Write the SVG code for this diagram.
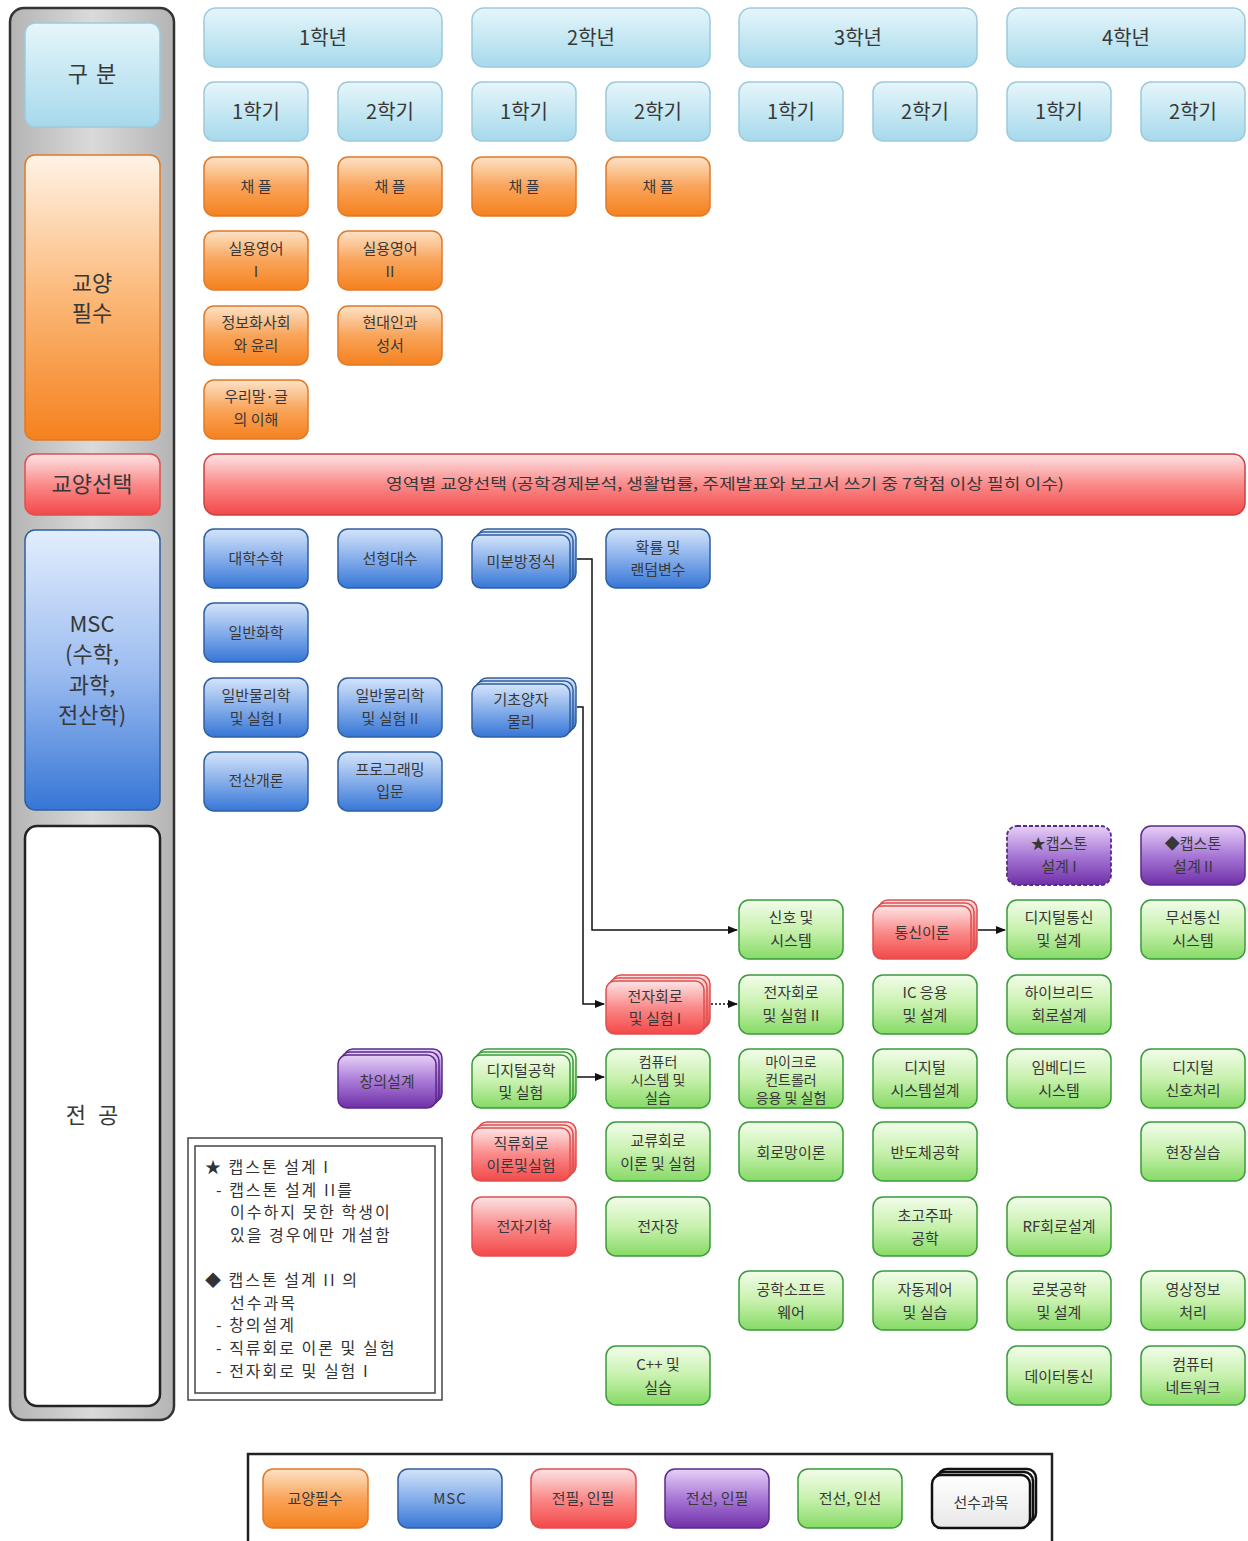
<svg xmlns="http://www.w3.org/2000/svg" width="1248" height="1541" viewBox="0 0 1248 1541">
<style>
text{font-family:"Noto Sans CJK KR","Noto Sans",sans-serif;fill:#383838;text-anchor:middle;dominant-baseline:central}
.n{font-size:15px}
.s{font-size:14px}
.h{font-size:20px}
.L{font-size:22px}
.lb{stroke:#9ccadb;stroke-width:1.5;fill:url(#gLB)}
.or{stroke:#e07a2a;stroke-width:1.5;fill:url(#gOr)}
.rd{stroke:#dd5050;stroke-width:1.5;fill:url(#gRd)}
.bl{stroke:#2f5f9f;stroke-width:1.5;fill:url(#gBl)}
.pu{stroke:#5a2a8a;stroke-width:1.5;fill:url(#gPu)}
.gr{stroke:#3a9a3a;stroke-width:1.5;fill:url(#gGr)}
.wh{stroke:#111;stroke-width:2.5;fill:url(#gWh)}
.con{fill:none;stroke:#111;stroke-width:1.5}
.note{font-size:16px;text-anchor:start;letter-spacing:2px;fill:#333}
</style>
<defs>
<linearGradient id="gLB" x1="0" y1="0" x2="0" y2="1"><stop offset="0" stop-color="#e6f6fb"/><stop offset="1" stop-color="#a6d9eb"/></linearGradient>
<linearGradient id="gOr" x1="0" y1="0" x2="0" y2="1"><stop offset="0" stop-color="#fde2c6"/><stop offset="0.5" stop-color="#f9a45a"/><stop offset="1" stop-color="#f5811e"/></linearGradient>
<linearGradient id="gOrBig" x1="0" y1="0" x2="0" y2="1"><stop offset="0" stop-color="#fff3e6"/><stop offset="0.5" stop-color="#fbb878"/><stop offset="1" stop-color="#f5811e"/></linearGradient>
<linearGradient id="gRd" x1="0" y1="0" x2="0" y2="1"><stop offset="0" stop-color="#fde4e4"/><stop offset="0.5" stop-color="#fa8a8a"/><stop offset="1" stop-color="#f34848"/></linearGradient>
<linearGradient id="gBl" x1="0" y1="0" x2="0" y2="1"><stop offset="0" stop-color="#d4e4fa"/><stop offset="0.5" stop-color="#86aeea"/><stop offset="1" stop-color="#3676d6"/></linearGradient>
<linearGradient id="gBlBig" x1="0" y1="0" x2="0" y2="1"><stop offset="0" stop-color="#e2eefd"/><stop offset="0.5" stop-color="#9dbdf0"/><stop offset="1" stop-color="#3676d6"/></linearGradient>
<linearGradient id="gPu" x1="0" y1="0" x2="0" y2="1"><stop offset="0" stop-color="#e6d0f6"/><stop offset="0.5" stop-color="#a878d6"/><stop offset="1" stop-color="#7030a8"/></linearGradient>
<linearGradient id="gGr" x1="0" y1="0" x2="0" y2="1"><stop offset="0" stop-color="#f2fdea"/><stop offset="0.5" stop-color="#c8f1ae"/><stop offset="1" stop-color="#86da66"/></linearGradient>
<linearGradient id="gWh" x1="0" y1="0" x2="0" y2="1"><stop offset="0" stop-color="#ffffff"/><stop offset="1" stop-color="#e8e8e8"/></linearGradient>
<linearGradient id="gGray" x1="0" y1="0" x2="1" y2="0"><stop offset="0" stop-color="#b4b4b4"/><stop offset="0.5" stop-color="#dadada"/><stop offset="1" stop-color="#b4b4b4"/></linearGradient>
<marker id="arr" viewBox="0 0 10 10" refX="9" refY="5" markerWidth="7" markerHeight="7" orient="auto"><path d="M0,1 L10,5 L0,9 z" fill="#111"/></marker>
</defs>
<rect width="1248" height="1541" fill="#fff"/>

<!-- left category column -->
<g id="category-column">
<rect x="10" y="8" width="164" height="1412" rx="14" fill="url(#gGray)" stroke="#333" stroke-width="2.5"/>
</g>
<g id="cat-gubun"><rect x="25" y="23" width="135" height="104" rx="10" class="lb"/><text x="96" y="72" class="L" style="letter-spacing:8px">구분</text></g>
<g id="cat-gyoyang-pilsu"><rect x="25" y="155" width="135" height="285" rx="10" stroke="#e07a2a" stroke-width="1.5" fill="url(#gOrBig)"/><text x="92" y="281" class="L">교양</text><text x="92" y="311" class="L">필수</text></g>
<g id="cat-gyoyang-seontaek"><rect x="25" y="454" width="135" height="61" rx="10" class="rd"/><text x="92" y="482" class="L">교양선택</text></g>
<g id="cat-msc"><rect x="25" y="530" width="135" height="280" rx="10" stroke="#2f5f9f" stroke-width="1.5" fill="url(#gBlBig)"/><text x="92" y="622" class="L">MSC</text><text x="92" y="652" class="L">(수학,</text><text x="92" y="683" class="L">과학,</text><text x="92" y="713" class="L">전산학)</text></g>
<g id="cat-jeongong"><rect x="25" y="826" width="135" height="580" rx="12" fill="#fff" stroke="#222" stroke-width="2.5"/><text x="98" y="1113" class="L" style="letter-spacing:12px">전공</text></g>

<!-- year headers -->
<g id="year1"><rect x="204" y="8" width="238" height="59" rx="12" class="lb"/><text x="323" y="36" class="h">1학년</text></g>
<g id="year2"><rect x="472" y="8" width="238" height="59" rx="12" class="lb"/><text x="591" y="36" class="h">2학년</text></g>
<g id="year3"><rect x="739" y="8" width="238" height="59" rx="12" class="lb"/><text x="858" y="36" class="h">3학년</text></g>
<g id="year4"><rect x="1007" y="8" width="238" height="59" rx="12" class="lb"/><text x="1126" y="36" class="h">4학년</text></g>

<!-- semesters -->
<g id="sem1-1"><rect x="204" y="82" width="104" height="59" rx="10" class="lb"/><text x="256" y="110" class="h">1학기</text></g>
<g id="sem1-2"><rect x="338" y="82" width="104" height="59" rx="10" class="lb"/><text x="390" y="110" class="h">2학기</text></g>
<g id="sem2-1"><rect x="472" y="82" width="104" height="59" rx="10" class="lb"/><text x="524" y="110" class="h">1학기</text></g>
<g id="sem2-2"><rect x="606" y="82" width="104" height="59" rx="10" class="lb"/><text x="658" y="110" class="h">2학기</text></g>
<g id="sem3-1"><rect x="739" y="82" width="104" height="59" rx="10" class="lb"/><text x="791" y="110" class="h">1학기</text></g>
<g id="sem3-2"><rect x="873" y="82" width="104" height="59" rx="10" class="lb"/><text x="925" y="110" class="h">2학기</text></g>
<g id="sem4-1"><rect x="1007" y="82" width="104" height="59" rx="10" class="lb"/><text x="1059" y="110" class="h">1학기</text></g>
<g id="sem4-2"><rect x="1141" y="82" width="104" height="59" rx="10" class="lb"/><text x="1193" y="110" class="h">2학기</text></g>

<!-- 교양필수 -->
<g id="chapel1"><rect x="204" y="157" width="104" height="59" rx="10" class="or"/><text x="256" y="185" class="n">채 플</text></g>
<g id="chapel2"><rect x="338" y="157" width="104" height="59" rx="10" class="or"/><text x="390" y="185" class="n">채 플</text></g>
<g id="chapel3"><rect x="472" y="157" width="104" height="59" rx="10" class="or"/><text x="524" y="185" class="n">채 플</text></g>
<g id="chapel4"><rect x="606" y="157" width="104" height="59" rx="10" class="or"/><text x="658" y="185" class="n">채 플</text></g>
<g id="eng1"><rect x="204" y="231" width="104" height="59" rx="10" class="or"/><text x="256" y="247" class="n">실용영어</text><text x="256" y="270" class="n">I</text></g>
<g id="eng2"><rect x="338" y="231" width="104" height="59" rx="10" class="or"/><text x="390" y="247" class="n">실용영어</text><text x="390" y="270" class="n">II</text></g>
<g id="info-ethics"><rect x="204" y="306" width="104" height="59" rx="10" class="or"/><text x="256" y="321" class="n">정보화사회</text><text x="256" y="344" class="n">와 윤리</text></g>
<g id="modern-bible"><rect x="338" y="306" width="104" height="59" rx="10" class="or"/><text x="390" y="321" class="n">현대인과</text><text x="390" y="344" class="n">성서</text></g>
<g id="korean"><rect x="204" y="380" width="104" height="59" rx="10" class="or"/><text x="256" y="395" class="n">우리말·글</text><text x="256" y="418" class="n">의 이해</text></g>

<!-- 교양선택 bar -->
<g id="elective-bar"><rect x="204" y="454" width="1041" height="61" rx="12" stroke="#cc4040" stroke-width="1.5" fill="url(#gRd)"/><text x="725" y="482" class="n" textLength="678" lengthAdjust="spacingAndGlyphs">영역별 교양선택 (공학경제분석, 생활법률, 주제발표와 보고서 쓰기 중 7학점 이상 필히 이수)</text></g>

<!-- MSC -->
<g id="calculus"><rect x="204" y="529" width="104" height="59" rx="10" class="bl"/><text x="256" y="557" class="n">대학수학</text></g>
<g id="linear-algebra"><rect x="338" y="529" width="104" height="59" rx="10" class="bl"/><text x="390" y="557" class="n">선형대수</text></g>
<g id="diff-eq"><rect x="478" y="529" width="98" height="53" rx="9" class="bl"/><rect x="475" y="532" width="98" height="53" rx="9" class="bl"/><rect x="472" y="535" width="98" height="53" rx="9" class="bl"/><text x="521" y="560" class="n">미분방정식</text></g>
<g id="probability"><rect x="606" y="529" width="104" height="59" rx="10" class="bl"/><text x="658" y="546" class="n">확률 및</text><text x="658" y="568" class="n">랜덤변수</text></g>
<g id="chemistry"><rect x="204" y="603" width="104" height="59" rx="10" class="bl"/><text x="256" y="631" class="n">일반화학</text></g>
<g id="physics1"><rect x="204" y="678" width="104" height="59" rx="10" class="bl"/><text x="256" y="694" class="n">일반물리학</text><text x="256" y="717" class="n">및 실험 I</text></g>
<g id="physics2"><rect x="338" y="678" width="104" height="59" rx="10" class="bl"/><text x="390" y="694" class="n">일반물리학</text><text x="390" y="717" class="n">및 실험 II</text></g>
<g id="quantum"><rect x="478" y="678" width="98" height="53" rx="9" class="bl"/><rect x="475" y="681" width="98" height="53" rx="9" class="bl"/><rect x="472" y="684" width="98" height="53" rx="9" class="bl"/><text x="521" y="698" class="n">기초양자</text><text x="521" y="720" class="n">물리</text></g>
<g id="intro-computing"><rect x="204" y="752" width="104" height="59" rx="10" class="bl"/><text x="256" y="779" class="n">전산개론</text></g>
<g id="intro-programming"><rect x="338" y="752" width="104" height="59" rx="10" class="bl"/><text x="390" y="768" class="n">프로그래밍</text><text x="390" y="790" class="n">입문</text></g>

<!-- 전공 -->
<g id="capstone1"><rect x="1007" y="826" width="104" height="59" rx="10" stroke="#5a2a8a" stroke-width="1.8" stroke-dasharray="4,2" fill="url(#gPu)"/><text x="1059" y="842" class="n">★캡스톤</text><text x="1059" y="865" class="n">설계 I</text></g>
<g id="capstone2"><rect x="1141" y="826" width="104" height="59" rx="10" class="pu"/><text x="1193" y="842" class="n">◆캡스톤</text><text x="1193" y="865" class="n">설계 II</text></g>

<g id="signals"><rect x="739" y="900" width="104" height="59" rx="10" class="gr"/><text x="791" y="916" class="n">신호 및</text><text x="791" y="939" class="n">시스템</text></g>
<g id="comm-theory"><rect x="879" y="900" width="98" height="53" rx="9" class="rd"/><rect x="876" y="903" width="98" height="53" rx="9" class="rd"/><rect x="873" y="906" width="98" height="53" rx="9" class="rd"/><text x="922" y="931" class="n">통신이론</text></g>
<g id="digital-comm"><rect x="1007" y="900" width="104" height="59" rx="10" class="gr"/><text x="1059" y="916" class="n">디지털통신</text><text x="1059" y="939" class="n">및 설계</text></g>
<g id="wireless"><rect x="1141" y="900" width="104" height="59" rx="10" class="gr"/><text x="1193" y="916" class="n">무선통신</text><text x="1193" y="939" class="n">시스템</text></g>

<g id="electronics1"><rect x="612" y="975" width="98" height="53" rx="9" class="rd"/><rect x="609" y="978" width="98" height="53" rx="9" class="rd"/><rect x="606" y="981" width="98" height="53" rx="9" class="rd"/><text x="655" y="995" class="n">전자회로</text><text x="655" y="1017" class="n">및 실험 I</text></g>
<g id="electronics2"><rect x="739" y="975" width="104" height="59" rx="10" class="gr"/><text x="791" y="991" class="n">전자회로</text><text x="791" y="1014" class="n">및 실험 II</text></g>
<g id="ic-app"><rect x="873" y="975" width="104" height="59" rx="10" class="gr"/><text x="925" y="991" class="n">IC 응용</text><text x="925" y="1014" class="n">및 설계</text></g>
<g id="hybrid"><rect x="1007" y="975" width="104" height="59" rx="10" class="gr"/><text x="1059" y="991" class="n">하이브리드</text><text x="1059" y="1014" class="n">회로설계</text></g>

<g id="creative-design"><rect x="344" y="1049" width="98" height="53" rx="9" class="pu"/><rect x="341" y="1052" width="98" height="53" rx="9" class="pu"/><rect x="338" y="1055" width="98" height="53" rx="9" class="pu"/><text x="387" y="1080" class="n">창의설계</text></g>
<g id="digital-eng"><rect x="478" y="1049" width="98" height="53" rx="9" class="gr"/><rect x="475" y="1052" width="98" height="53" rx="9" class="gr"/><rect x="472" y="1055" width="98" height="53" rx="9" class="gr"/><text x="521" y="1069" class="n">디지털공학</text><text x="521" y="1091" class="n">및 실험</text></g>
<g id="computer-system"><rect x="606" y="1049" width="104" height="59" rx="10" class="gr"/><text x="658" y="1061" class="s">컴퓨터</text><text x="658" y="1079" class="s">시스템 및</text><text x="658" y="1097" class="s">실습</text></g>
<g id="microcontroller"><rect x="739" y="1049" width="104" height="59" rx="10" class="gr"/><text x="791" y="1061" class="s">마이크로</text><text x="791" y="1079" class="s">컨트롤러</text><text x="791" y="1097" class="s">응용 및 실험</text></g>
<g id="digital-system"><rect x="873" y="1049" width="104" height="59" rx="10" class="gr"/><text x="925" y="1066" class="n">디지털</text><text x="925" y="1089" class="n">시스템설계</text></g>
<g id="embedded"><rect x="1007" y="1049" width="104" height="59" rx="10" class="gr"/><text x="1059" y="1066" class="n">임베디드</text><text x="1059" y="1089" class="n">시스템</text></g>
<g id="dsp"><rect x="1141" y="1049" width="104" height="59" rx="10" class="gr"/><text x="1193" y="1066" class="n">디지털</text><text x="1193" y="1089" class="n">신호처리</text></g>

<g id="dc-circuit"><rect x="478" y="1122" width="98" height="53" rx="9" class="rd"/><rect x="475" y="1125" width="98" height="53" rx="9" class="rd"/><rect x="472" y="1128" width="98" height="53" rx="9" class="rd"/><text x="521" y="1142" class="n">직류회로</text><text x="521" y="1164" class="n">이론및실험</text></g>
<g id="ac-circuit"><rect x="606" y="1122" width="104" height="59" rx="10" class="gr"/><text x="658" y="1139" class="n">교류회로</text><text x="658" y="1162" class="n">이론 및 실험</text></g>
<g id="network-theory"><rect x="739" y="1122" width="104" height="59" rx="10" class="gr"/><text x="791" y="1151" class="n">회로망이론</text></g>
<g id="semiconductor"><rect x="873" y="1122" width="104" height="59" rx="10" class="gr"/><text x="925" y="1151" class="n">반도체공학</text></g>
<g id="field-practice"><rect x="1141" y="1122" width="104" height="59" rx="10" class="gr"/><text x="1193" y="1151" class="n">현장실습</text></g>

<g id="electromagnetics"><rect x="472" y="1197" width="104" height="59" rx="10" class="rd"/><text x="524" y="1225" class="n">전자기학</text></g>
<g id="em-field"><rect x="606" y="1197" width="104" height="59" rx="10" class="gr"/><text x="658" y="1225" class="n">전자장</text></g>
<g id="microwave"><rect x="873" y="1197" width="104" height="59" rx="10" class="gr"/><text x="925" y="1214" class="n">초고주파</text><text x="925" y="1237" class="n">공학</text></g>
<g id="rf-design"><rect x="1007" y="1197" width="104" height="59" rx="10" class="gr"/><text x="1059" y="1225" class="n">RF회로설계</text></g>

<g id="eng-software"><rect x="739" y="1271" width="104" height="59" rx="10" class="gr"/><text x="791" y="1288" class="n">공학소프트</text><text x="791" y="1311" class="n">웨어</text></g>
<g id="auto-control"><rect x="873" y="1271" width="104" height="59" rx="10" class="gr"/><text x="925" y="1288" class="n">자동제어</text><text x="925" y="1311" class="n">및 실습</text></g>
<g id="robotics"><rect x="1007" y="1271" width="104" height="59" rx="10" class="gr"/><text x="1059" y="1288" class="n">로봇공학</text><text x="1059" y="1311" class="n">및 설계</text></g>
<g id="image-processing"><rect x="1141" y="1271" width="104" height="59" rx="10" class="gr"/><text x="1193" y="1288" class="n">영상정보</text><text x="1193" y="1311" class="n">처리</text></g>

<g id="cpp"><rect x="606" y="1346" width="104" height="59" rx="10" class="gr"/><text x="658" y="1363" class="n">C++ 및</text><text x="658" y="1386" class="n">실습</text></g>
<g id="data-comm"><rect x="1007" y="1346" width="104" height="59" rx="10" class="gr"/><text x="1059" y="1375" class="n">데이터통신</text></g>
<g id="computer-network"><rect x="1141" y="1346" width="104" height="59" rx="10" class="gr"/><text x="1193" y="1363" class="n">컴퓨터</text><text x="1193" y="1386" class="n">네트워크</text></g>

<!-- connectors -->
<g id="connectors">
<path class="con" d="M577,559 H592 V930 H737" marker-end="url(#arr)"/>
<path class="con" d="M577,707 H583 V1004 H604" marker-end="url(#arr)"/>
<path class="con" d="M711,1004 H737" stroke-dasharray="2,2" marker-end="url(#arr)"/>
<path class="con" d="M978,930 H1005" marker-end="url(#arr)"/>
<path class="con" d="M577,1077 H604" marker-end="url(#arr)"/>
</g>

<!-- note box -->
<g id="note-box">
<rect x="188" y="1138" width="254" height="262" fill="#fff" stroke="#444" stroke-width="1.5"/>
<rect x="195" y="1146" width="240" height="247" fill="none" stroke="#444" stroke-width="1.5"/>
<text x="205" y="1166" class="note">★ 캡스톤 설계 I</text>
<text x="216" y="1189" class="note">- 캡스톤 설계 II를</text>
<text x="230" y="1211" class="note">이수하지 못한 학생이</text>
<text x="230" y="1234" class="note">있을 경우에만 개설함</text>
<text x="205" y="1279" class="note">◆ 캡스톤 설계 II 의</text>
<text x="230" y="1302" class="note">선수과목</text>
<text x="216" y="1324" class="note">- 창의설계</text>
<text x="216" y="1347" class="note">- 직류회로 이론 및 실험</text>
<text x="216" y="1370" class="note">- 전자회로 및 실험 I</text>
</g>

<!-- legend -->
<g id="legend">
<rect x="248" y="1454" width="804" height="100" fill="#fff" stroke="#222" stroke-width="2.5"/>
<g id="legend-gyoyang"><rect x="263" y="1469" width="105" height="59" rx="10" class="or"/><text x="315" y="1497" class="n">교양필수</text></g>
<g id="legend-msc"><rect x="398" y="1469" width="104" height="59" rx="10" class="bl"/><text x="450" y="1497" class="n" style="letter-spacing:1px">MSC</text></g>
<g id="legend-jp"><rect x="531" y="1469" width="105" height="59" rx="10" class="rd"/><text x="583" y="1497" class="n">전필, 인필</text></g>
<g id="legend-js"><rect x="665" y="1469" width="104" height="59" rx="10" class="pu"/><text x="717" y="1497" class="n">전선, 인필</text></g>
<g id="legend-jsis"><rect x="798" y="1469" width="104" height="59" rx="10" class="gr"/><text x="850" y="1497" class="n">전선, 인선</text></g>
<g id="legend-prereq"><rect x="938" y="1469" width="98" height="53" rx="9" class="wh"/><rect x="935" y="1472" width="98" height="53" rx="9" class="wh"/><rect x="932" y="1475" width="98" height="53" rx="9" class="wh"/><text x="981" y="1501" class="n">선수과목</text></g>
</g>
</svg>
